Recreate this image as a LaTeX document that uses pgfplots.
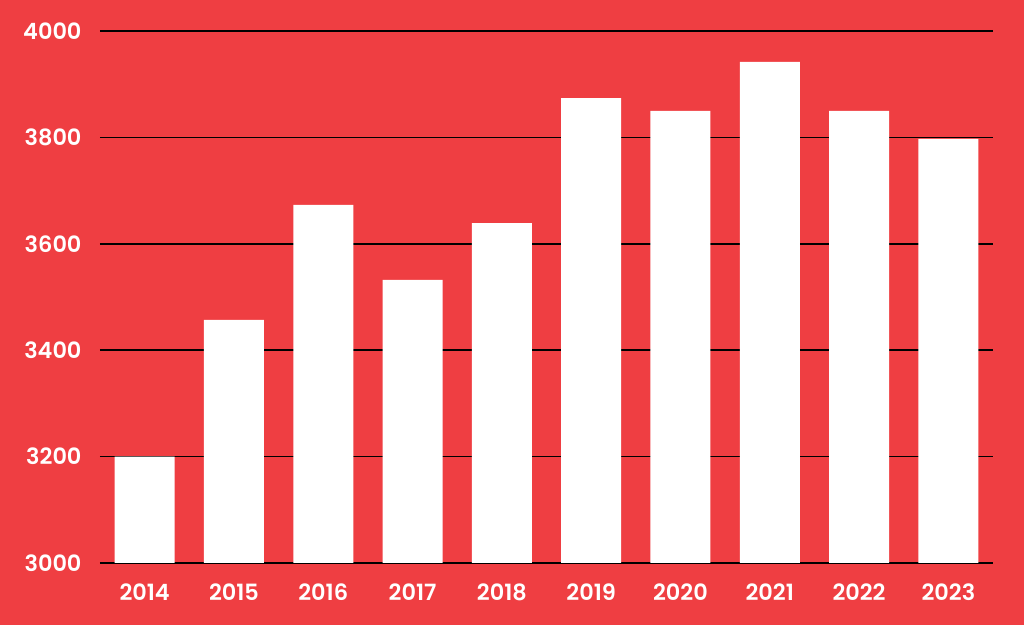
\documentclass[border=0pt]{standalone}
\usepackage{pgfplots}
\pgfplotsset{compat=1.18}
\usepackage{fontspec}
\setmainfont{Poppins}[BoldFont={Poppins SemiBold}]
\definecolor{bgred}{HTML}{EF3E42}
\begin{document}
\begin{tikzpicture}[x=1bp,y=1bp]
\fill[bgred] (-100,-62) rectangle (924,563);
\begin{axis}[
  at={(0,0)}, anchor=south west,
  scale only axis, width=893bp, height=532bp,
  xmin=-0.5, xmax=9.5, ymin=3000, ymax=4000,
  ytick={3000,3200,3400,3600,3800,4000},
  xtick={0,...,9},
  xticklabels={2014,2015,2016,2017,2018,2019,2020,2021,2022,2023},
  axis line style={draw=none},
  major tick length=0pt,
  ymajorgrids, grid style={black, line width=1.6bp},
  ticklabel style={font=\fontsize{22.5}{26}\selectfont\bfseries, text=white},
  /pgf/number format/assume math mode=true,
  /pgf/number format/1000 sep={},
  yticklabel style={xshift=-15bp},
  xticklabel style={yshift=-17bp},
  ybar, bar width=60bp, bar shift=0pt,
]
\addplot[fill=white, draw=none] coordinates {
(0,3200) (1,3457) (2,3673) (3,3532) (4,3639)
(5,3874) (6,3850) (7,3942) (8,3850) (9,3797)};
\end{axis}
\end{tikzpicture}
\end{document}
